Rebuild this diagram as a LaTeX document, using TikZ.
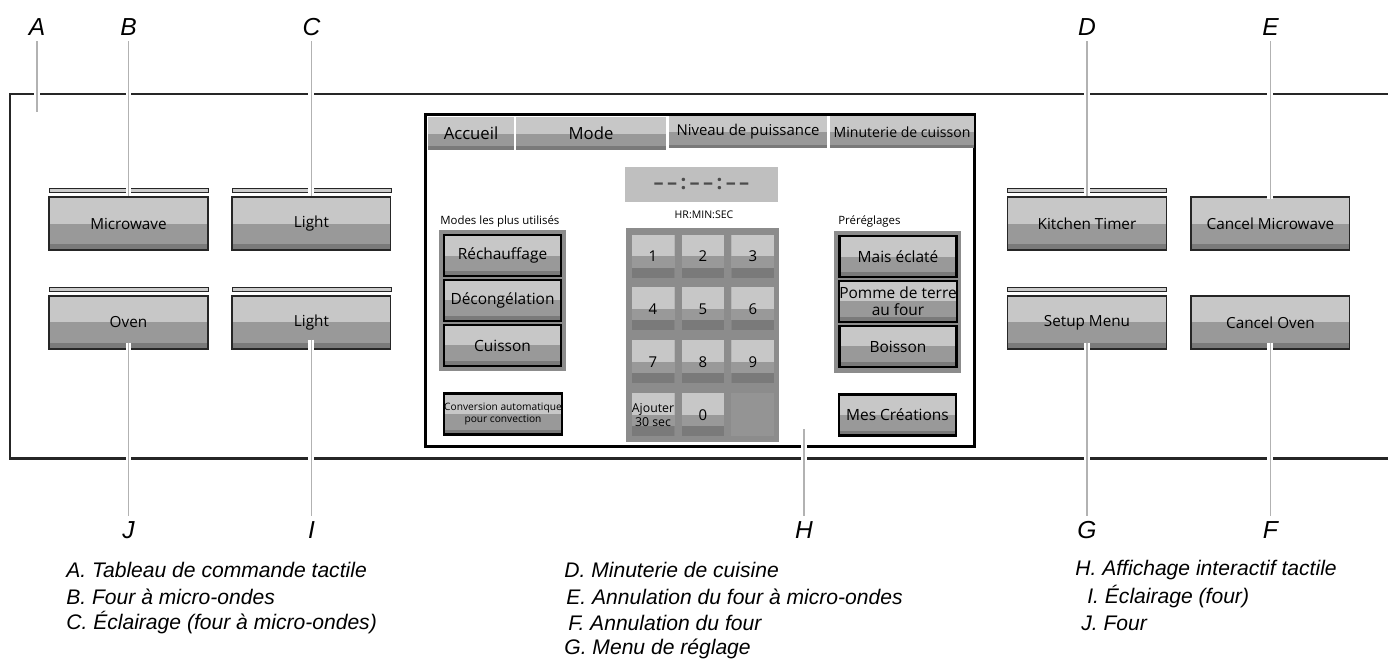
\documentclass[tikz,border=0pt]{standalone}
\usepackage{fontspec}
\setmainfont{Liberation Sans}
\newfontfamily\uifont{Open Sans}
\usetikzlibrary{positioning}

\tikzset{
  letter/.style={font=\itshape\fontsize{14}{16}\selectfont, inner sep=3pt},
  legend/.style={font=\itshape\fontsize{12}{14}\selectfont, anchor=west, inner sep=0pt},
  leader/.style={draw=black!30, line width=0.9pt, preaction={draw=white, line width=3.4pt}},
  shade/.style={fill=black!40,
    path picture={\fill[black!22] (path picture bounding box.north west) rectangle (path picture bounding box.east);
      \fill[black!52] (path picture bounding box.south west) rectangle ([yshift=#1]path picture bounding box.south east);}},
  panelbtn/.style={shade=0.12cm, draw=black!85, line width=0.6pt, minimum width=3.18cm, minimum height=1.06cm,
    inner sep=0pt, font=\uifont\fontsize{8.7}{10}\selectfont},
  rail/.style={draw=black!85, fill=black!20, line width=0.5pt, minimum width=3.18cm, minimum height=0.08cm, inner sep=0pt},
  screen/.style={draw=black, line width=1.7pt, fill=white, minimum width=11cm, minimum height=6.66cm, inner sep=0pt},
  tab/.style={shade=0.08cm, minimum height=0.66cm, inner sep=0pt, font=\uifont\fontsize{8.5}{10}\selectfont},
  group/.style={fill=black!45, inner sep=0pt},
  dispbtn/.style={shade=0.1cm, draw=black, line width=1.2pt, minimum width=2.34cm, minimum height=0.82cm,
    inner sep=0pt, font=\uifont\fontsize{8.8}{10}\selectfont},
  key/.style={minimum width=0.86cm, minimum height=0.86cm, inner sep=0pt, font=\uifont\fontsize{8.5}{10}\selectfont},
  smalltxt/.style={anchor=west, inner sep=0pt, font=\uifont\fontsize{6.5}{8}\selectfont}
}

\begin{document}
\begin{tikzpicture}[x=0.02cm, y=-0.02cm, on grid]
\useasboundingbox (0,0) rectangle (1388,659);

% panel outline, open on the right
\draw[line width=1.7pt, black!85] (1388,94) -- (10,94) -- (10,458) -- (1388,458);

% left buttons
\node[panelbtn] (mw) at (128.5,223.5) {Microwave};
\node[panelbtn] (lt1) [right=3.66cm of mw] {Light};
\node[panelbtn] (ov) [below=1.98cm of mw] {Oven};
\node[panelbtn] (lt2) [below=1.98cm of lt1] {Light};
\node[rail] (rmw) [above=0.67cm of mw] {};
\node[rail] (rlt1) [above=0.67cm of lt1] {};
\node[rail] (rov) [above=0.67cm of ov] {};
\node[rail] (rlt2) [above=0.67cm of lt2] {};

% right buttons
\node[panelbtn] (kt) at (1087,223.5) {Kitchen Timer};
\node[panelbtn] (cmw) [right=3.67cm of kt] {Cancel Microwave};
\node[panelbtn] (su) [below=1.98cm of kt] {Setup Menu};
\node[panelbtn] (cov) [below=1.98cm of cmw] {Cancel Oven};
\node[rail] (rkt) [above=0.67cm of kt] {};
\node[rail] (rsu) [above=0.67cm of su] {};

% touch display
\node[screen] (scr) at (700,280.5) {};
\node[tab, minimum width=1.72cm, font=\uifont\fontsize{9.5}{11}\selectfont] (tAcc) at (471,133.5) {Accueil};
\node[tab, minimum width=3cm, font=\uifont\fontsize{9.5}{11}\selectfont] (tMode) at (591,133.5) {Mode};
\node[tab, minimum width=3.16cm] (tNiv) at (748,132) {Niveau de puissance};
\node[tab, minimum width=2.88cm, font=\uifont\fontsize{8}{10}\selectfont] (tMin) at (902,132) {Minuterie de cuisson};

\node[fill=black!25, minimum width=3.06cm, minimum height=0.7cm, inner sep=0pt, text=black!70,
  font=\uifont\bfseries\fontsize{11.5}{13}\selectfont] (clk) at (701.5,184.5)
  {\textendash\,\textendash\,:\,\textendash\,\textendash\,:\,\textendash\,\textendash};
\node[inner sep=0pt, font=\uifont\fontsize{6}{7}\selectfont] (hms) at (704,215) {HR:MIN:SEC};

% most used modes
\node[smalltxt] (modes) at (440,221) {Modes les plus utilisés};
\node[group, minimum width=2.54cm, minimum height=2.82cm] (gL) at (502.5,300.5) {};
\node[dispbtn] (rech) at (502.5,255.5) {Réchauffage};
\node[dispbtn] (dec) [below=0.9cm of rech] {Décongélation};
\node[dispbtn] (cuis) [below=0.9cm of dec] {Cuisson};
\node[dispbtn, align=center, font=\uifont\fontsize{5.8}{6.5}\selectfont] (conv) at (503,414)
  {Conversion automatique\\pour convection};

% keypad
\node[group, minimum width=3.06cm, minimum height=4.28cm] (pad) at (702.5,335) {};
\node[key, shade=0.2cm] (k1) at (653,256) {1};
\node[key, shade=0.2cm] (k2) [right=1cm of k1] {2};
\node[key, shade=0.2cm] (k3) [right=1cm of k2] {3};
\node[key, shade=0.2cm] (k4) [below=1.06cm of k1] {4};
\node[key, shade=0.2cm] (k5) [right=1cm of k4] {5};
\node[key, shade=0.2cm] (k6) [right=1cm of k5] {6};
\node[key, shade=0.2cm] (k7) [below=1.06cm of k4] {7};
\node[key, shade=0.2cm] (k8) [right=1cm of k7] {8};
\node[key, shade=0.2cm] (k9) [right=1cm of k8] {9};
\node[key, shade=0.2cm, align=center, font=\uifont\fontsize{7}{8}\selectfont] (kadd) [below=1.06cm of k7] {Ajouter\\30 sec};
\node[key, shade=0.2cm] (k0) [right=1cm of kadd] {0};
\node[key, fill=black!42] (kx) [right=1cm of k0] {};

% presets
\node[smalltxt] (pre) at (838,221) {Préréglages};
\node[group, minimum width=2.54cm, minimum height=2.84cm] (gR) at (897.5,302) {};
\node[dispbtn] (mais) at (898,256.5) {Mais éclaté};
\node[dispbtn, align=center, font=\uifont\fontsize{8.8}{9.5}\selectfont] (pomme) [below=0.9cm of mais] {Pomme de terre\\au four};
\node[dispbtn] (bois) [below=0.9cm of pomme] {Boisson};
\node[dispbtn] (mes) at (897.5,415) {Mes Créations};

% callout letters
\node[letter] (lA) at (37,27) {A};
\node[letter] (lB) [above=3.93cm of mw] {B};
\node[letter] (lC) [above=3.93cm of lt1] {C};
\node[letter] (lD) [above=3.93cm of kt] {D};
\node[letter] (lE) [above=3.93cm of cmw] {E};
\node[letter] (lJ) [below=4.15cm of ov] {J};
\node[letter] (lI) [below=4.15cm of lt2] {I};
\node[letter] (lG) [below=4.15cm of su] {G};
\node[letter] (lF) [below=4.15cm of cov] {F};
\node[letter] (lH) at (804,530) {H};
\coordinate (aEnd) at (37,112);
\coordinate (hEnd) at (804,429);

% leaders
\draw[leader] (lA) -- (aEnd);
\draw[leader] (lB) -- (mw.north);
\draw[leader] (lC) -- (lt1.north);
\draw[leader] (lD) -- (kt.north);
\draw[leader] (lE) -- ([yshift=-0.06cm]cmw.north);
\draw[leader] ([yshift=0.14cm]ov.south) -- (lJ);
\draw[leader] ([yshift=0.2cm]lt2.south) -- (lI);
\draw[leader] ([yshift=0.14cm]su.south) -- (lG);
\draw[leader] ([yshift=0.14cm]cov.south) -- (lF);
\draw[leader] (hEnd) -- (lH);

% legend
\node[legend] (legA) at (66,570) {A. Tableau de commande tactile};
\node[legend] (legB) at (66,597) {B. Four à micro-ondes};
\node[legend] (legC) at (66,623) {C. Éclairage (four à micro-ondes)};
\node[legend] (legD) at (564,570) {D. Minuterie de cuisine};
\node[legend] (legE) at (566,597) {E. Annulation du four à micro-ondes};
\node[legend] (legF) at (568,623) {F. Annulation du four};
\node[legend] (legG) at (564,649) {G. Menu de réglage};
\node[legend] (legH) at (1075,570) {H. Affichage interactif tactile};
\node[legend] (legI) at (1087,597) {I. Éclairage (four)};
\node[legend] (legJ) at (1081,623) {J. Four};
\end{tikzpicture}
\end{document}
